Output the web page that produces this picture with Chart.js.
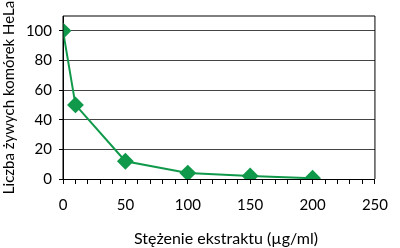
<!DOCTYPE html>
<html><head><meta charset="utf-8">
<script src="https://cdn.jsdelivr.net/npm/chart.js@4"></script>
<style>html,body{margin:0;padding:0;background:#fff}#c{display:block}</style>
</head><body>
<div style="width:400px;height:248px"><canvas id="c" width="400" height="248"></canvas></div>
<script>
const concentrations = [0, 10, 50, 100, 150, 200];
const liveCells = [100, 50, 12, 4, 2, 0.5];
const xLabelTicks = [0, 50, 100, 150, 200, 250];
const yLabelTicks = [0, 20, 40, 60, 80, 100];
const xTitle = 'Stężenie ekstraktu (µg/ml)';
const yTitle = 'Liczba żywych komórek HeLa';

const FONT = 'Lato, "Open Sans", sans-serif';
const green = '#10994a';

const borderPlugin = {
  id: 'frame',
  afterDraw(chart) {
    const {ctx, chartArea: a} = chart;
    ctx.save();
    ctx.strokeStyle = '#000';
    ctx.lineWidth = 1;
    ctx.beginPath();
    ctx.moveTo(a.left, a.bottom + 0.5);
    ctx.lineTo(a.left, a.top);
    ctx.lineTo(a.right, a.top);
    ctx.lineTo(a.right, a.bottom);
    ctx.stroke();
    ctx.fillStyle = '#000';
    ctx.font = '16px ' + FONT;
    ctx.textAlign = 'center';
    ctx.textBaseline = 'middle';
    ctx.fillText(xTitle, (a.left + a.right) / 2 + 7, 239);
    ctx.restore();
  }
};

new Chart(document.getElementById('c'), {
  type: 'scatter',
  data: {
    datasets: [{
      data: concentrations.map((x, i) => ({x, y: liveCells[i]})),
      showLine: true,
      borderColor: green,
      backgroundColor: green,
      borderWidth: 2,
      pointStyle: 'rectRot',
      pointRadius: 7,
      pointHoverRadius: 7,
      tension: 0
    }]
  },
  options: {
    responsive: false,
    animation: false,
    events: [],
    layout: {padding: {top: 12, right: 14, left: 0, bottom: 0}},
    plugins: {legend: {display: false}, tooltip: {enabled: false}},
    scales: {
      x: {
        type: 'linear', min: 0, max: 250,
        afterFit(s) { s.height = 69; },
        afterBuildTicks(s) {
          const t = [];
          for (let v = 0; v <= 250; v += 10) t.push({value: v});
          s.ticks = t;
        },
        ticks: {
          autoSkip: false, maxRotation: 0, padding: 12,
          color: '#000', font: {family: FONT, size: 15},
          callback: v => xLabelTicks.includes(v) ? String(v) : ''
        },
        grid: {drawOnChartArea: false, drawTicks: true, tickLength: 5, tickColor: '#000', color: '#000'},
        border: {display: true, color: '#000', width: 1},
        title: {display: false}
      },
      y: {
        type: 'linear', min: 0, max: 110,
        afterFit(s) { s.width = 63; },
        afterBuildTicks(s) { s.ticks = yLabelTicks.map(v => ({value: v})); },
        ticks: {color: '#000', font: {family: FONT, size: 15}, padding: 7},
        grid: {color: '#444', lineWidth: 1, tickLength: 4, tickColor: '#000'},
        border: {display: true, color: '#000', width: 1},
        title: {display: true, text: yTitle, color: '#000', font: {family: FONT, size: 15}, padding: {top: 0, bottom: 0}}
      }
    }
  },
  plugins: [borderPlugin]
});
</script>
</body></html>
